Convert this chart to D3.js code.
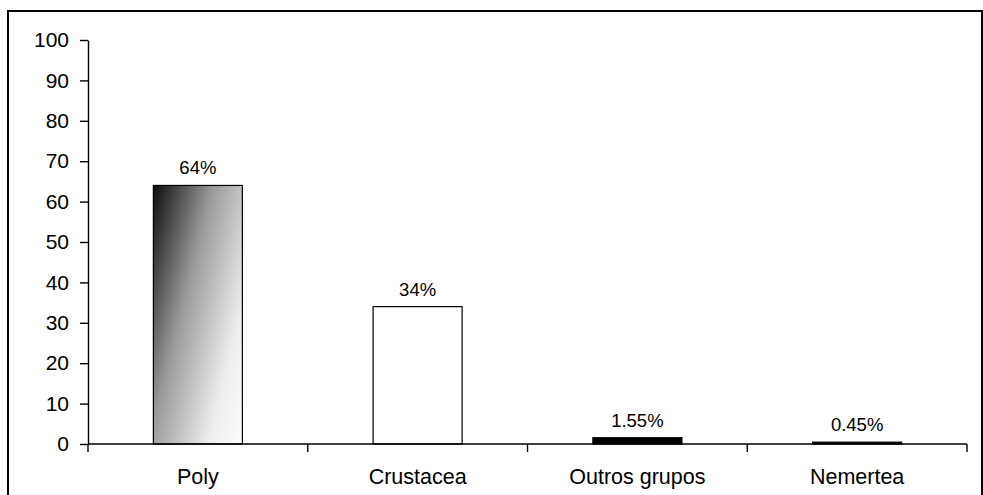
<!DOCTYPE html>
<html>
<head>
<meta charset="utf-8">
<script src="https://cdn.jsdelivr.net/npm/d3@7"></script>
<style>
  html, body { margin: 0; padding: 0; background: #fff; }
  svg { display: block; }
  text { font-family: "Liberation Sans", Arial, sans-serif; fill: #000; }
</style>
</head>
<body>
<svg id="chart" width="983" height="495"></svg>
<script>
// Composition of the benthic fauna by group (%)
const categories = ["Poly", "Crustacea", "Outros grupos", "Nemertea"];
const values = [64, 34, 1.55, 0.45];
const valueLabels = ["64%", "34%", "1.55%", "0.45%"];
const yTicks = [0, 10, 20, 30, 40, 50, 60, 70, 80, 90, 100];
const fills = ["url(#polyGrad)", "#ffffff", "#000000", "#000000"];

const svg = d3.select("#chart");
const plot = { left: 88, right: 967, top: 40, bottom: 444 };

// Gradient for the first bar: dark top-left to light bottom-right
const defs = svg.append("defs");
const grad = defs.append("linearGradient")
  .attr("id", "polyGrad")
  .attr("x1", 0).attr("y1", 0).attr("x2", 1.1).attr("y2", 0.8);
grad.append("stop").attr("offset", "0%").attr("stop-color", "#0d0d0d");
grad.append("stop").attr("offset", "40%").attr("stop-color", "#9a9a9a");
grad.append("stop").attr("offset", "80%").attr("stop-color", "#eeeeee");
grad.append("stop").attr("offset", "100%").attr("stop-color", "#fbfbfb");

// Outer frame (bottom edge falls outside the view)
svg.append("path")
  .attr("d", `M8,495 L8,11 L982,11 L982,495`)
  .attr("fill", "none").attr("stroke", "#000").attr("stroke-width", 2);

const x = d3.scaleBand().domain(categories).range([plot.left, plot.right]).padding(0);
const y = d3.scaleLinear().domain([0, 100]).range([plot.bottom, plot.top]);

const barW = x.bandwidth() * 0.405;

// Y axis
const yAxis = d3.axisLeft(y).tickValues(yTicks).tickSize(8).tickPadding(11).tickSizeOuter(0);
const gy = svg.append("g").attr("transform", `translate(${plot.left},0)`).call(yAxis);
gy.select(".domain").attr("stroke", "#000").attr("stroke-width", 1.4);
gy.selectAll(".tick line").attr("stroke", "#000").attr("stroke-width", 1.4);
gy.selectAll(".tick text").attr("font-size", 21).attr("font-family", "Liberation Sans, Arial, sans-serif").attr("fill", "#000");

// Bars
svg.append("g").selectAll("rect").data(categories).join("rect")
  .attr("x", (d) => x(d) + (x.bandwidth() - barW) / 2)
  .attr("y", (d, i) => y(values[i]))
  .attr("width", barW)
  .attr("height", (d, i) => y(0) - y(values[i]))
  .attr("fill", (d, i) => fills[i])
  .attr("stroke", "#000")
  .attr("stroke-width", 1.2);

// X axis baseline and category boundary ticks
const gx = svg.append("g");
gx.append("line")
  .attr("x1", plot.left).attr("x2", plot.right)
  .attr("y1", y(0)).attr("y2", y(0))
  .attr("stroke", "#000").attr("stroke-width", 1.4);
const edges = categories.map((d) => x(d)).concat([x(categories[categories.length - 1]) + x.bandwidth()]);
gx.selectAll("line.edge").data(edges).join("line")
  .attr("class", "edge")
  .attr("x1", (d) => d).attr("x2", (d) => d)
  .attr("y1", y(0)).attr("y2", y(0) + 8)
  .attr("stroke", "#000").attr("stroke-width", 1.4);

// Category labels
gx.selectAll("text").data(categories).join("text")
  .attr("x", (d) => x(d) + x.bandwidth() / 2)
  .attr("y", 484)
  .attr("text-anchor", "middle")
  .attr("font-size", 21.5)
  .text((d) => d);

// Value labels
svg.append("g").selectAll("text").data(categories).join("text")
  .attr("x", (d) => x(d) + x.bandwidth() / 2)
  .attr("y", (d, i) => y(values[i]) - 11)
  .attr("text-anchor", "middle")
  .attr("font-size", 18.5)
  .text((d, i) => valueLabels[i]);
</script>
</body>
</html>
